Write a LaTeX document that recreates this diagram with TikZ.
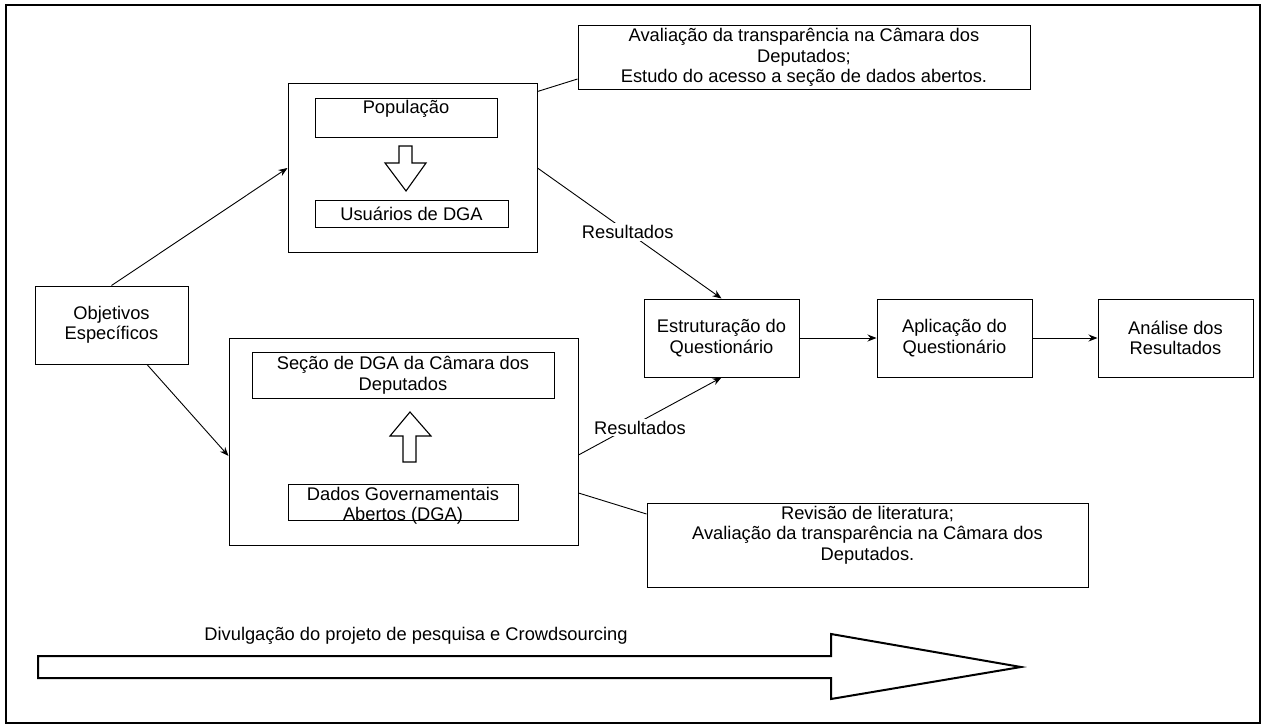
\documentclass[tikz,border=0pt]{standalone}
\usepackage{fontspec}
\setmainfont{Liberation Sans}
\usetikzlibrary{arrows.meta}
\newcommand{\dfont}{\fontsize{18.3}{20.5}\selectfont}
\begin{document}
\begin{tikzpicture}[x=1pt,y=-1pt,
  box/.style={draw=black, line width=1pt, fill=white, inner sep=0pt, align=center, font=\dfont},
  txt/.style={inner sep=0pt, align=center, font=\dfont},
  lbl/.style={fill=white, inner sep=2pt, font=\dfont},
  conn/.style={draw=black, line width=0.9pt},
  arr/.style={conn, -{Stealth[length=9pt,width=7pt]}},
  hollow/.style={draw=black, line width=1.1pt, fill=white, line join=miter},
  big/.style={draw=black, line width=2pt, fill=white, line join=miter}]
\useasboundingbox (0,0) rectangle (1264,725);
\draw[line width=2pt] (6,5) rectangle (1260,723);

% top note
\node[box, minimum width=452pt, minimum height=64pt] (note1) at (804,57.5)
  {Avaliação da transparência na Câmara dos\\Deputados;\\Estudo do acesso a seção de dados abertos.};

% upper group
\node[box, minimum width=249pt, minimum height=168pt] (up) at (412.5,168) {};
\node[box, minimum width=182pt, minimum height=39pt] (pop) at (406,117.5) {};
\node[txt] (poptxt) at (406,109) {População};
\node[box, minimum width=193pt, minimum height=27pt] (usr) at (411.5,213.5) {Usuários de DGA};
\draw[hollow] (399,146) -- (412,146) -- (412,163) -- (426,163) -- (406,191) -- (385,163) -- (399,163) -- cycle;

% objectives
\node[box, minimum width=153pt, minimum height=78pt] (obj) at (111.5,325) {Objetivos\\Específicos};

% lower group
\node[box, minimum width=349pt, minimum height=207pt] (low) at (403.5,441.5) {};
\node[box, minimum width=302pt, minimum height=46pt] (secao) at (403,375) {Seção de DGA da Câmara dos\\Deputados};
\node[box, minimum width=230pt, minimum height=36pt] (dados) at (403,502) {};
\node[txt] (dadostxt) at (403,506) {Dados Governamentais\\Abertos (DGA)};
\draw[hollow] (403,462) -- (403,436) -- (390,436) -- (410,412) -- (431,436) -- (416,436) -- (416,462) -- cycle;

% process chain
\node[box, minimum width=155pt, minimum height=78pt] (estr) at (721.5,338) {Estruturação do\\Questionário};
\node[box, minimum width=155pt, minimum height=78pt] (apl) at (954.5,338) {Aplicação do\\Questionário};
\node[box, minimum width=155pt, minimum height=78pt] (ana) at (1175.5,338) {Análise dos\\Resultados};

% bottom note
\node[box, minimum width=441pt, minimum height=84pt] (rev) at (867.5,545.5) {};
\node[txt] (revtxt) at (867.5,535) {Revisão de literatura;\\Avaliação da transparência na Câmara dos\\Deputados.};

% connectors
\draw[arr] (obj.north) -- (up.west);
\draw[arr] ([xshift=35.5pt]obj.south) -- ([yshift=-14.5pt]low.west);
\draw[arr] (up.east) -- node[lbl, pos=0.49] {Resultados} (estr.north);
\draw[arr] ([yshift=-13.5pt]low.east) -- node[lbl, pos=0.43, yshift=-6pt] {Resultados} (estr.south);
\draw[arr] (estr.east) -- (apl.west);
\draw[arr] (apl.east) -- (ana.west);
\draw[conn] ([yshift=-8pt]up.north east) -- ([yshift=-21.5pt]note1.west);
\draw[conn] ([yshift=-51.5pt]low.east) -- ([yshift=31.5pt]rev.west);

% big arrow
\draw[big] (38,656) -- (831,656) -- (831,634) -- (1021,667) -- (831,699) -- (831,678) -- (38,678) -- cycle;
\node[txt] (div) at (416,636) {Divulgação do projeto de pesquisa e Crowdsourcing};
\end{tikzpicture}
\end{document}
